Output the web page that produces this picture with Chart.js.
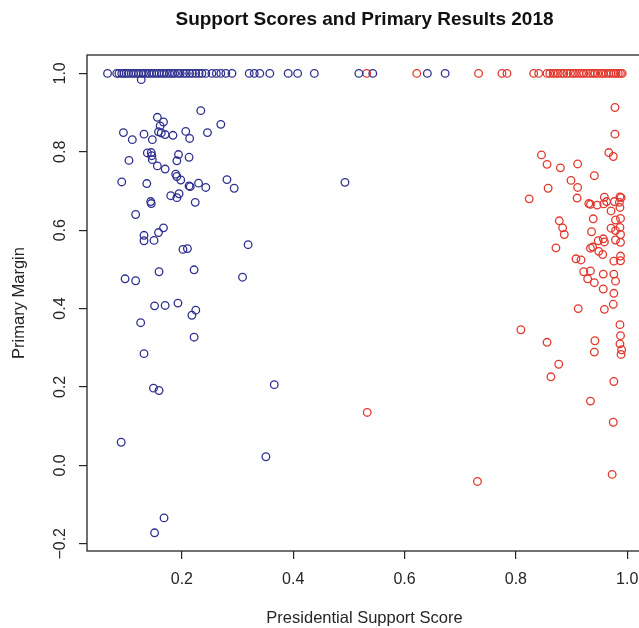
<!DOCTYPE html>
<html>
<head>
<meta charset="utf-8">
<script src="https://cdn.jsdelivr.net/npm/chart.js@4"></script>
<style>
html, body { margin: 0; padding: 0; overflow: hidden; background: #fff; }
</style>
</head>
<body>
<canvas id="scoreChart" width="650" height="628"></canvas>
<script>
// blue = low support score, red = high support score
const demScore = [
    0.0665, 0.083, 0.087, 0.092, 0.096, 0.100, 0.104, 0.109, 0.113, 0.118, 0.122, 0.127, 0.131,
    0.136, 0.141, 0.146, 0.150, 0.155, 0.159, 0.164, 0.168, 0.173, 0.178, 0.183, 0.187, 0.193,
    0.197, 0.203, 0.208, 0.214, 0.219, 0.225, 0.231, 0.236, 0.243, 0.254, 0.262, 0.270, 0.279,
    0.290, 0.321, 0.330, 0.340, 0.358, 0.391, 0.408, 0.438, 0.518, 0.543, 0.641, 0.673,
    0.127,
    0.234, 0.156, 0.167, 0.270, 0.161, 0.095, 0.158, 0.163, 0.207, 0.246, 0.132, 0.170, 0.184,
    0.111, 0.147, 0.214, 0.138, 0.145, 0.146, 0.194, 0.213, 0.105, 0.147, 0.191, 0.156, 0.170,
    0.189, 0.191, 0.198, 0.092, 0.137, 0.230, 0.213, 0.215, 0.243, 0.281, 0.294, 0.180, 0.195,
    0.191, 0.144, 0.145, 0.224, 0.117, 0.167, 0.158, 0.132, 0.132, 0.150, 0.319, 0.202, 0.210,
    0.159, 0.222, 0.309, 0.098, 0.117, 0.151, 0.170, 0.193, 0.225, 0.218, 0.126, 0.222, 0.132,
    0.149, 0.159, 0.366, 0.091, 0.351, 0.168, 0.151, 0.493
];
const demMargin = [
    1, 1, 1, 1, 1, 1, 1, 1, 1, 1, 1, 1, 1,
    1, 1, 1, 1, 1, 1, 1, 1, 1, 1, 1, 1, 1,
    1, 1, 1, 1, 1, 1, 1, 1, 1, 1, 1, 1, 1,
    1, 1, 1, 1, 1, 1, 1, 1, 1, 1, 1, 1,
    0.984,
    0.905, 0.888, 0.876, 0.870, 0.866, 0.849, 0.851, 0.848, 0.852, 0.849, 0.845, 0.844, 0.842,
    0.831, 0.831, 0.834, 0.797, 0.798, 0.790, 0.793, 0.786, 0.778, 0.780, 0.777, 0.764, 0.756,
    0.743, 0.737, 0.728, 0.723, 0.719, 0.720, 0.713, 0.711, 0.709, 0.729, 0.707, 0.688, 0.693,
    0.683, 0.673, 0.668, 0.671, 0.640, 0.606, 0.594, 0.587, 0.573, 0.574, 0.563, 0.551, 0.553,
    0.494, 0.499, 0.480, 0.476, 0.471, 0.407, 0.408, 0.414, 0.396, 0.383, 0.364, 0.327, 0.285,
    0.197, 0.191, 0.206, 0.059, 0.022, -0.134, -0.172, 0.722
];
const repScore = [
    0.532, 0.622, 0.733, 0.775, 0.784, 0.832, 0.841, 0.856, 0.861, 0.867, 0.871, 0.876, 0.882,
    0.886, 0.892, 0.898, 0.903, 0.907, 0.913, 0.918, 0.922, 0.927, 0.933, 0.938, 0.942, 0.947,
    0.953, 0.957, 0.962, 0.967, 0.971, 0.976, 0.980, 0.984, 0.988, 0.991,
    0.978, 0.978, 0.846, 0.967, 0.975, 0.856, 0.880, 0.911, 0.941, 0.899, 0.911, 0.858, 0.824,
    0.910, 0.959, 0.987, 0.989, 0.931, 0.934, 0.946, 0.958, 0.963, 0.977, 0.986, 0.987, 0.971,
    0.878, 0.939, 0.979, 0.988, 0.884, 0.971, 0.987, 0.979, 0.887, 0.936, 0.988, 0.979, 0.948,
    0.957, 0.959, 0.988, 0.872, 0.934, 0.938, 0.949, 0.956, 0.988, 0.908, 0.917, 0.976, 0.988,
    0.922, 0.934, 0.929, 0.957, 0.976, 0.979, 0.941, 0.957, 0.976, 0.975, 0.912, 0.959, 0.987,
    0.809, 0.988, 0.856, 0.942, 0.987, 0.990, 0.989, 0.941, 0.877, 0.863, 0.976, 0.934, 0.975,
    0.973, 0.731, 0.533
];
const repMargin = [
    1, 1, 1, 1, 1, 1, 1, 1, 1, 1, 1, 1, 1,
    1, 1, 1, 1, 1, 1, 1, 1, 1, 1, 1, 1, 1,
    1, 1, 1, 1, 1, 1, 1, 1, 1, 1,
    0.913, 0.845, 0.792, 0.798, 0.788, 0.768, 0.759, 0.769, 0.739, 0.727, 0.709, 0.707, 0.680,
    0.682, 0.684, 0.685, 0.683, 0.668, 0.666, 0.664, 0.667, 0.673, 0.673, 0.671, 0.658, 0.649,
    0.624, 0.629, 0.626, 0.630, 0.606, 0.605, 0.607, 0.599, 0.589, 0.596, 0.589, 0.575, 0.573,
    0.578, 0.570, 0.569, 0.555, 0.554, 0.557, 0.546, 0.538, 0.534, 0.527, 0.524, 0.521, 0.522,
    0.494, 0.496, 0.476, 0.488, 0.488, 0.470, 0.466, 0.450, 0.439, 0.411, 0.400, 0.398, 0.359,
    0.346, 0.331, 0.314, 0.318, 0.310, 0.295, 0.283, 0.289, 0.258, 0.226, 0.214, 0.164, 0.110,
    -0.023, -0.041, 0.135
];
const xTicks = [0.2, 0.4, 0.6, 0.8, 1.0];
const yTicks = [-0.2, 0.0, 0.2, 0.4, 0.6, 0.8, 1.0];

const fontFamily = '"Liberation Sans", Arial, Helvetica, sans-serif';
const inkColor = '#262626';

function toPoints(xs, ys) {
    return xs.map((x, i) => ({ x: x, y: ys[i] }));
}

// R style box round the plot area
const boxPlugin = {
    id: 'plotBox',
    afterDraw(chart) {
        const { ctx, chartArea } = chart;
        ctx.save();
        ctx.strokeStyle = inkColor;
        ctx.lineWidth = 1.3;
        ctx.strokeRect(chartArea.left, chartArea.top,
            chartArea.right - chartArea.left, chartArea.bottom - chartArea.top);
        ctx.restore();
    }
};

// y tick labels run along the axis like R's las=0
const yLabelPlugin = {
    id: 'yLabels',
    afterDraw(chart) {
        const { ctx } = chart;
        const ys = chart.scales.y;
        ctx.save();
        ctx.font = '16px ' + fontFamily;
        ctx.fillStyle = inkColor;
        ctx.textAlign = 'center';
        ctx.textBaseline = 'middle';
        ys.ticks.forEach(t => {
            const py = ys.getPixelForValue(t.value);
            ctx.save();
            ctx.translate(61, py);
            ctx.rotate(-Math.PI / 2);
            ctx.fillText(t.value.toFixed(1).replace('-', '\u2212'), 0, 0);
            ctx.restore();
        });
        ctx.restore();
    }
};

const ctx = document.getElementById('scoreChart').getContext('2d');
const scoreChart = new Chart(ctx, {
    type: 'scatter',
    data: {
        datasets: [{
            label: 'Blue',
            data: toPoints(demScore, demMargin),
            borderColor: '#2e2f8f',
            backgroundColor: 'rgba(0,0,0,0)',
            pointRadius: 3.8,
            borderWidth: 1.3
        }, {
            label: 'Red',
            data: toPoints(repScore, repMargin),
            borderColor: '#e2372d',
            backgroundColor: 'rgba(0,0,0,0)',
            pointRadius: 3.8,
            borderWidth: 1.3
        }]
    },
    options: {
        responsive: false,
        animation: false,
        layout: { padding: { left: 0, right: 8, top: 0, bottom: 0 } },
        plugins: {
            legend: { display: false },
            tooltip: { enabled: false },
            title: {
                display: true,
                fullSize: false,
                text: 'Support Scores and Primary Results 2018',
                color: '#111',
                font: { family: fontFamily, size: 19, weight: 'bold' },
                padding: { top: 8, bottom: 24.2 }
            }
        },
        scales: {
            x: {
                type: 'linear',
                min: 0.0296,
                max: 1.0266,
                afterBuildTicks: s => { s.ticks = xTicks.map(v => ({ value: v })); },
                afterFit: s => { s.height = 77; },
                border: { display: false },
                grid: { drawOnChartArea: false, drawTicks: true, tickLength: 8, color: inkColor, lineWidth: 1.2 },
                ticks: {
                    color: inkColor,
                    font: { family: fontFamily, size: 16 },
                    padding: 11,
                    maxRotation: 0,
                    autoSkip: false,
                    callback: v => v.toFixed(1)
                },
                title: {
                    display: true,
                    text: 'Presidential Support Score',
                    color: inkColor,
                    font: { family: fontFamily, size: 16.5 },
                    padding: { top: 0, bottom: 0 }
                }
            },
            y: {
                type: 'linear',
                min: -0.2184,
                max: 1.0469,
                afterBuildTicks: s => { s.ticks = yTicks.map(v => ({ value: v })); },
                afterFit: s => { s.width = 87; },
                border: { display: false },
                grid: { drawOnChartArea: false, drawTicks: true, tickLength: 8, color: inkColor, lineWidth: 1.2 },
                ticks: { display: false },
                title: {
                    display: true,
                    text: 'Primary Margin',
                    color: inkColor,
                    font: { family: fontFamily, size: 16.5 },
                    padding: { top: 10, bottom: 0 }
                }
            }
        }
    },
    plugins: [boxPlugin, yLabelPlugin]
});
</script>
</body>
</html>
